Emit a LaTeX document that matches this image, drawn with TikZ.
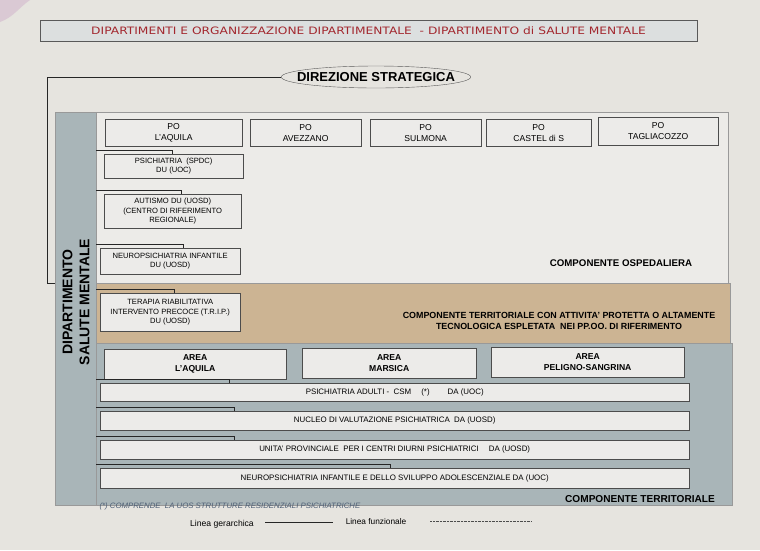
\documentclass[tikz,border=0pt]{standalone}
\usepackage{fontspec}
\setmainfont{Liberation Sans}
\newfontfamily\titlefont{DejaVu Sans}
\usetikzlibrary{calc,shapes.geometric}
\definecolor{page}{HTML}{E6E4DF}
\definecolor{titlefill}{HTML}{DCDFDF}
\definecolor{titletext}{HTML}{A3282F}
\definecolor{ospfill}{HTML}{ECEBE8}
\definecolor{tanfill}{HTML}{CCB493}
\definecolor{terrfill}{HTML}{A9B5B8}
\definecolor{boxfill}{HTML}{ECEBE9}
\definecolor{notetext}{HTML}{4E5F75}
\colorlet{boxline}{black!70}
\tikzset{
  panel/.style={draw=black!40,inner sep=0pt,anchor=north west},
  box/.style={draw=boxline,fill=boxfill,inner sep=0pt,anchor=north west,align=center,
    font=\fontsize{7.6}{9.5}\selectfont},
  pobox/.style={box,font=\fontsize{8.6}{11}\selectfont},
  areabox/.style={box,font=\bfseries\fontsize{8.6}{11}\selectfont},
  widebox/.style={box,font=\fontsize{7.9}{9}\selectfont},
  comp/.style={font=\bfseries\fontsize{9.7}{11}\selectfont,align=center},
  gerarchica/.style={draw=black!85,line width=0.6pt},
  funzionale/.style={draw=black!70,line width=0.4pt,densely dotted}
}
\def\hook#1#2#3{% box, panel, length
  \coordinate (h) at ($(#1.north west)+(0,-4)$);
  \draw[gerarchica] (h -| #2.west) -| ($(#1.north west)+(#3,0)$);
}
\begin{document}
\begin{tikzpicture}[x=1pt,y=-1pt]
  \useasboundingbox (0,0) rectangle (760,550);
  \fill[page] (0,0) rectangle (760,550);
  \fill[violet!12!page] (0,0) -- (30,0) to[out=215,in=20] (0,22) -- cycle;

  % TITLE
  \node[draw=black!65,line width=1pt,fill=titlefill,inner sep=0pt,
    minimum width=657pt,minimum height=21pt] (title) at (368.5,30.5) {};
  \node[text=titletext,font=\titlefont\fontsize{10.2}{12}\selectfont] (titletxt) at (title.center)
    {\scalebox{1.2}[1]{DIPARTIMENTI E ORGANIZZAZIONE DIPARTIMENTALE \ - DIPARTIMENTO di SALUTE MENTALE}};

  % DIREZIONE
  \node[ellipse,draw=black!65,inner xsep=-12pt,inner ysep=-1pt,minimum height=22pt,
    font=\bfseries\fontsize{13}{15}\selectfont] (dir) at (376,77) {DIREZIONE STRATEGICA};

  % PANELS
  \node[panel,fill=ospfill,minimum width=632pt,minimum height=171pt] (osp) at (96,112) {};
  \node[panel,fill=tanfill,minimum width=634pt,minimum height=60pt] (tan) at (96,283) {};
  \node[panel,fill=terrfill,minimum width=636pt,minimum height=162pt] (terr) at (96,343) {};
  \node[panel,fill=terrfill,minimum width=41pt,minimum height=393pt] (bar) at (55,112) {};
  \node[rotate=90,align=center,font=\bfseries\fontsize{14}{17}\selectfont] (dsm) at (76,302)
    {DIPARTIMENTO\\SALUTE MENTALE};

  % LINE TO DIREZIONE
  \coordinate (knee) at (47,283);
  \draw[gerarchica,line width=1pt] (dir.west) -| (knee) -- (knee -| bar.west);

  % COMPONENTE OSPEDALIERA
  \node[pobox,minimum width=137pt,minimum height=27pt] (poaq) at (105,119) {PO\\L'AQUILA};
  \node[pobox,minimum width=111pt,minimum height=27pt] (poav) at (250,119) {PO\\AVEZZANO};
  \node[pobox,minimum width=111pt,minimum height=27pt] (posu) at (370,119) {PO\\SULMONA};
  \node[pobox,minimum width=105pt,minimum height=27pt] (poca) at (486,119) {PO\\CASTEL di S};
  \node[pobox,minimum width=120pt,minimum height=28pt] (pota) at (598,117) {PO\\TAGLIACOZZO};
  \node[box,minimum width=139pt,minimum height=24pt] (psi) at (104,154) {PSICHIATRIA \ (SPDC)\\DU (UOC)};
  \node[box,minimum width=137pt,minimum height=34pt] (aut) at (104,194)
    {AUTISMO DU (UOSD)\\(CENTRO DI RIFERIMENTO\\REGIONALE)};
  \node[box,minimum width=140pt,minimum height=26pt] (npi) at (100,248)
    {NEUROPSICHIATRIA INFANTILE\\DU (UOSD)};
  \hook{psi}{osp}{68}
  \hook{aut}{osp}{77}
  \hook{npi}{osp}{83}
  \node[comp] (cosp) at (621,263) {COMPONENTE OSPEDALIERA};

  % COMPONENTE TERRITORIALE PROTETTA
  \node[box,minimum width=140pt,minimum height=38pt] (trip) at (100,293)
    {TERAPIA RIABILITATIVA\\INTERVENTO PRECOCE (T.R.I.P.)\\DU (UOSD)};
  \hook{trip}{tan}{74}
  \node[comp,font=\bfseries\fontsize{8.9}{11}\selectfont] (ctp) at (559,321)
    {COMPONENTE TERRITORIALE CON ATTIVITA' PROTETTA O ALTAMENTE\\
     TECNOLOGICA ESPLETATA \ NEI PP.OO. DI RIFERIMENTO};

  % COMPONENTE TERRITORIALE
  \node[areabox,minimum width=182pt,minimum height=30pt] (areaaq) at (104,349) {AREA\\L'AQUILA};
  \node[areabox,minimum width=174pt,minimum height=30pt] (areama) at (302,348) {AREA\\MARSICA};
  \node[areabox,minimum width=193pt,minimum height=30pt] (areape) at (491,347) {AREA\\PELIGNO-SANGRINA};
  \node[widebox,minimum width=589pt,minimum height=18pt] (csm) at (100,383)
    {PSICHIATRIA ADULTI - \ CSM \quad (*) \qquad DA (UOC)};
  \node[widebox,minimum width=589pt,minimum height=19pt] (nvp) at (100,411)
    {NUCLEO DI VALUTAZIONE PSICHIATRICA \ DA (UOSD)};
  \node[widebox,minimum width=589pt,minimum height=19pt] (ucd) at (100,440)
    {UNITA' PROVINCIALE \ PER I CENTRI DIURNI PSICHIATRICI \quad DA (UOSD)};
  \node[widebox,minimum width=589pt,minimum height=20pt] (npia) at (100,468)
    {NEUROPSICHIATRIA INFANTILE E DELLO SVILUPPO ADOLESCENZIALE DA (UOC)};
  \hook{csm}{terr}{129}
  \hook{nvp}{terr}{134}
  \hook{ucd}{terr}{134}
  \hook{npia}{terr}{290}
  \node[comp,font=\bfseries\fontsize{10.1}{11}\selectfont] (cterr) at (640,499) {COMPONENTE TERRITORIALE};
  \node[anchor=west,text=notetext,font=\itshape\fontsize{7.8}{9}\selectfont] (nota) at (96,506)
    {(*) COMPRENDE \ LA UOS STRUTTURE RESIDENZIALI PSICHIATRICHE};

  % LEGENDA
  \node[font=\fontsize{8.6}{10}\selectfont] (lger) at (222,524) {Linea gerarchica};
  \node[font=\fontsize{8.3}{10}\selectfont] (lfun) at (376,522) {Linea funzionale};
  \coordinate (gera) at (265,522);
  \coordinate (gerb) at (333,522);
  \coordinate (funa) at (430,521);
  \coordinate (funb) at (532,521);
  \draw[gerarchica] (gera) -- (gerb);
  \draw[funzionale] (funa) -- (funb);
\end{tikzpicture}
\end{document}
